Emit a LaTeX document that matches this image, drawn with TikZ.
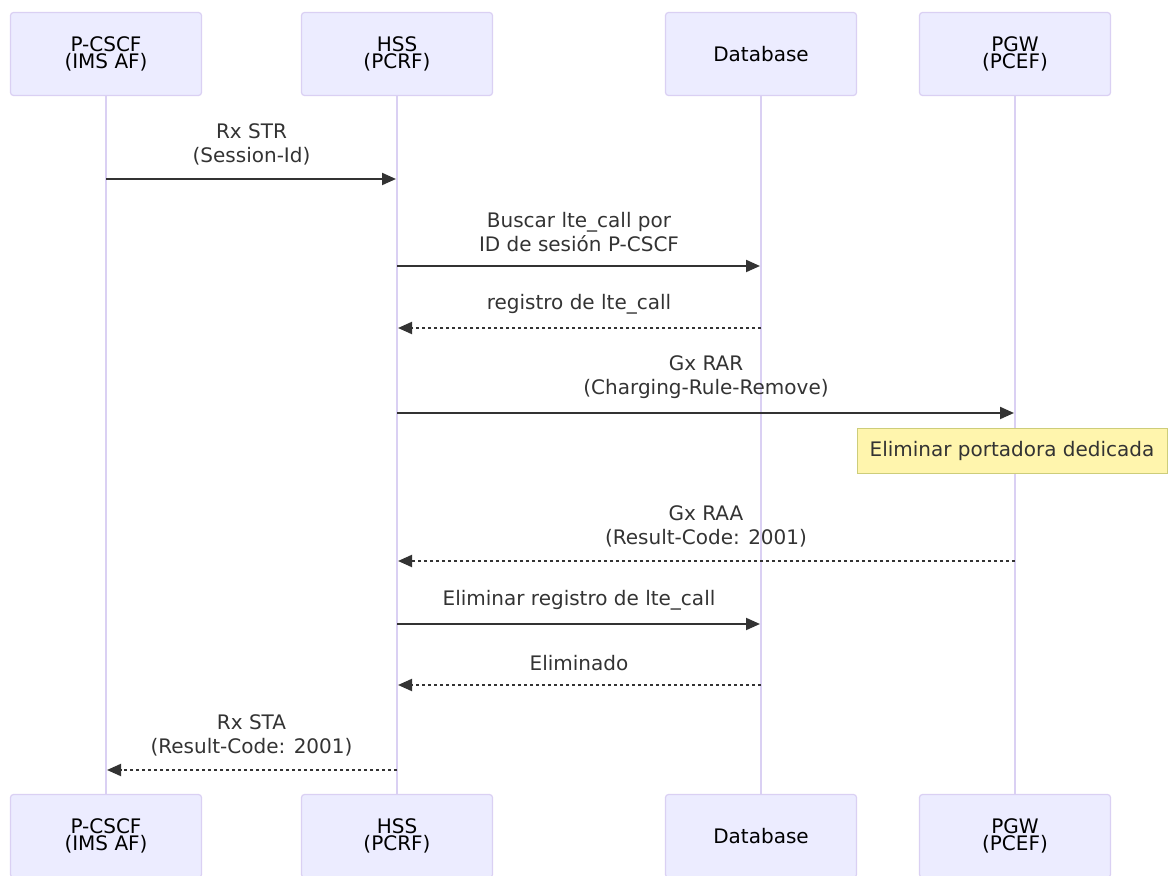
\documentclass[tikz,border=0pt]{standalone}
\usepackage{fontspec}
\setmainfont{DejaVu Sans}
\usetikzlibrary{arrows.meta}
\definecolor{actorfill}{HTML}{ECECFF}
\definecolor{actorline}{HTML}{DAD0F3}
\definecolor{msgline}{HTML}{333333}
\definecolor{notefill}{HTML}{FFF5AD}
\definecolor{noteline}{HTML}{CDCD7A}
\tikzset{
  actor/.style={draw=actorline, fill=actorfill, line width=0.6pt, rounded corners=1.5pt,
    minimum width=95.5pt, minimum height=41.5pt, inner sep=0pt, align=center,
    font=\fontsize{10pt}{8.5pt}\selectfont},
  lifeline/.style={actorline, line width=1.2pt},
  msg/.style={msgline, line width=1pt, -{Triangle[length=7pt, width=6pt]}, shorten >=0.5pt},
  reply/.style={msg, dash pattern=on 1.5pt off 1.5pt},
  lbl/.style={midway, anchor=south, yshift=6.5pt, inner sep=0pt, align=center, text=msgline,
    font=\fontsize{10pt}{12pt}\selectfont},
  note/.style={draw=noteline, fill=notefill, line width=0.5pt, minimum width=155pt,
    minimum height=22.5pt, inner sep=0pt, text=msgline, font=\fontsize{10pt}{12pt}\selectfont}
}
\begin{document}
\begin{tikzpicture}[x=0.5pt, y=-0.5pt]
    \useasboundingbox (0,0) rectangle (1168,876);
    \node[actor] (pcscf) at (106,54) {P-CSCF\\(IMS AF)};
    \node[actor] (hss) at (397,54) {HSS\\(PCRF)};
    \node[actor] (db) at (761,54) {Database};
    \node[actor] (pgw) at (1015,54) {PGW\\(PCEF)};
    \node[actor] (pcscf2) at (106,836) {P-CSCF\\(IMS AF)};
    \node[actor] (hss2) at (397,836) {HSS\\(PCRF)};
    \node[actor] (db2) at (761,836) {Database};
    \node[actor] (pgw2) at (1015,836) {PGW\\(PCEF)};
    \foreach \a in {pcscf, hss, db, pgw}
        \draw[lifeline] (\a.south) -- (\a2.north);
    \node[note] (rm) at (1012,451) {Eliminar portadora dedicada};
    \draw[msg] (pcscf |- 0,179) -- (hss |- 0,179) node[lbl] {Rx STR\\(Session-Id)};
    \draw[msg] (hss |- 0,266) -- (db |- 0,266) node[lbl] {Buscar lte\_call por\\ID de sesión P-CSCF};
    \draw[reply] (db |- 0,328) -- (hss |- 0,328) node[lbl] {registro de lte\_call};
    \draw[msg] (hss |- 0,413) -- (pgw |- 0,413) node[lbl] {Gx RAR\\(Charging-Rule-Remove)};
    \draw[reply] (pgw |- 0,561) -- (hss |- 0,561) node[lbl] {Gx RAA\\(Result-Code: 2001)};
    \draw[msg] (hss |- 0,624) -- (db |- 0,624) node[lbl] {Eliminar registro de lte\_call};
    \draw[reply] (db |- 0,685) -- (hss |- 0,685) node[lbl] {Eliminado};
    \draw[reply] (hss |- 0,770) -- (pcscf |- 0,770) node[lbl] {Rx STA\\(Result-Code: 2001)};
\end{tikzpicture}
\end{document}
